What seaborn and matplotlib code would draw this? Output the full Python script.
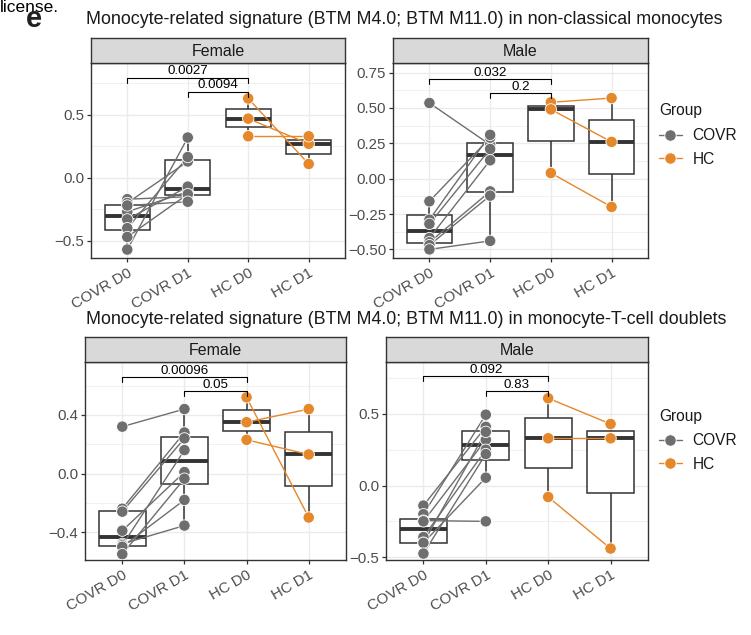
import numpy as np
import pandas as pd
import matplotlib
matplotlib.use("Agg")
import matplotlib.pyplot as plt
import seaborn as sns
from matplotlib.lines import Line2D

sns.set_theme(style="white")
plt.rcParams['font.family'] = ['Liberation Sans', 'DejaVu Sans']

ORDER = ["COVR D0", "COVR D1", "HC D0", "HC D1"]
PALETTE = {"COVR": "#6E6E6E", "HC": "#E5872B"}

# --- non-classical monocytes (paired subjects, same order D0 / D1) ---
ncm_f_covr_d0 = [-0.17, -0.20, -0.27, -0.33, -0.40, -0.47, -0.57, -0.22]
ncm_f_covr_d1 = [-0.15, 0.13, -0.11, -0.07, 0.165, -0.13, 0.32, -0.19]
ncm_f_hc_d0 = [0.63, 0.47, 0.33]
ncm_f_hc_d1 = [0.11, 0.27, 0.33]
ncm_m_covr_d0 = [0.535, -0.16, -0.29, -0.32, -0.42, -0.45, -0.47, -0.50]
ncm_m_covr_d1 = [0.24, 0.29, 0.31, 0.21, 0.13, -0.09, -0.12, -0.44]
ncm_m_hc_d0 = [0.54, 0.49, 0.04]
ncm_m_hc_d1 = [0.57, 0.26, -0.20]

# --- monocyte-T-cell doublets ---
dbl_f_covr_d0 = [0.32, -0.24, -0.26, -0.39, -0.48, -0.49, -0.50, -0.55]
dbl_f_covr_d1 = [0.44, 0.28, 0.24, 0.01, -0.355, 0.16, -0.18, -0.035]
dbl_f_hc_d0 = [0.52, 0.35, 0.23]
dbl_f_hc_d1 = [-0.30, 0.44, 0.13]
dbl_m_covr_d0 = [-0.14, -0.20, -0.245, -0.25, -0.36, -0.40, -0.40, -0.475]
dbl_m_covr_d1 = [0.41, 0.495, -0.25, 0.32, 0.25, 0.375, 0.055, 0.22]
dbl_m_hc_d0 = [0.61, 0.33, -0.08]
dbl_m_hc_d1 = [0.43, 0.33, -0.44]

# p-value labels: (COVR D0 vs HC D0, COVR D1 vs HC D0)
p_ncm_f = ["0.0027", "0.0094"]
p_ncm_m = ["0.032", "0.2"]
p_dbl_f = ["0.00096", "0.05"]
p_dbl_m = ["0.092", "0.83"]

TITLE_TOP = "Monocyte-related signature (BTM M4.0; BTM M11.0) in non-classical monocytes"
TITLE_BOT = "Monocyte-related signature (BTM M4.0; BTM M11.0) in monocyte-T-cell doublets"


def make_df(c0, c1, h0, h1):
    rows = []
    for i, (a, b) in enumerate(zip(c0, c1)):
        rows += [("COVR", f"c{i}", "COVR D0", a), ("COVR", f"c{i}", "COVR D1", b)]
    for i, (a, b) in enumerate(zip(h0, h1)):
        rows += [("HC", f"h{i}", "HC D0", a), ("HC", f"h{i}", "HC D1", b)]
    return pd.DataFrame(rows, columns=["group", "subj", "cond", "val"])


W, H = 751, 635
fig = plt.figure(figsize=(W / 100, H / 100), dpi=100)


def rect(l, t, r, b):
    return [l / W, 1 - b / H, (r - l) / W, (b - t) / H]


def fmt(v, nd):
    s = f"{abs(v):.{nd}f}"
    return ("\u2212" + s) if v < -1e-9 else s


def draw_panel(box, strip_top, df, label, pvals, br_y, ylim, yticks, nd):
    l, t, r, b = box
    ax = fig.add_axes(rect(l, t, r, b))
    sns.boxplot(data=df, x="cond", y="val", order=ORDER, width=0.75, color="white",
                linecolor="#333333", linewidth=1.1, showfliers=False, showcaps=False,
                medianprops=dict(linewidth=2.8, color="#333333"), ax=ax)
    sns.lineplot(data=df, x="cond", y="val", units="subj", estimator=None, hue="group",
                 palette=PALETTE, sort=False, linewidth=1.0, legend=False, zorder=3, ax=ax)
    sns.stripplot(data=df, x="cond", y="val", order=ORDER, hue="group", palette=PALETTE,
                  jitter=False, size=8.2, linewidth=0.6, edgecolor="white",
                  legend=False, zorder=4, ax=ax)
    ax.set_xlim(-0.6, 3.6)
    ax.set_ylim(*ylim)
    ax.set_yticks(yticks)
    ax.set_yticklabels([fmt(v, nd) for v in yticks])
    step = yticks[1] - yticks[0]
    minor = [v + step / 2 for v in [yticks[0] - step] + list(yticks)]
    ax.set_yticks([m for m in minor if ylim[0] < m < ylim[1]], minor=True)
    ax.set_xticks(range(len(ORDER)))
    ax.set_xticklabels(ORDER, rotation=30, ha="right", rotation_mode="anchor")
    ax.set_xlabel("")
    ax.set_ylabel("")
    ax.set_axisbelow(True)
    ax.grid(True, which="major", color="#EBEBEB", linewidth=1.0)
    ax.grid(True, which="minor", axis="y", color="#EBEBEB", linewidth=0.5)
    for s in ax.spines.values():
        s.set_color("#333333")
        s.set_linewidth(1.0)
    ax.tick_params(axis="both", which="major", length=3, width=0.9, color="#333333",
                   labelcolor="#4D4D4D", labelsize=10.8, pad=2, left=True, bottom=True)
    ax.tick_params(axis="x", which="major", pad=3)
    ax.tick_params(axis="y", which="minor", length=0)

    # significance brackets
    px_per_unit = (b - t) / (ylim[1] - ylim[0])
    tip = 5 / px_per_unit
    for (x0, x1), y, p in zip([(0, 2), (1, 2)], br_y, pvals):
        ax.plot([x0, x0, x1, x1], [y - tip, y, y, y - tip], color="black",
                linewidth=0.8, zorder=5, clip_on=False)
        ax.text((x0 + x1) / 2, y + 0.2 / px_per_unit, p, ha="center", va="bottom",
                fontsize=9.6, color="black", zorder=5)

    # facet strip
    sax = fig.add_axes(rect(l, strip_top, r, t))
    sax.set_facecolor("#D9D9D9")
    sax.set_xticks([])
    sax.set_yticks([])
    for s in sax.spines.values():
        s.set_color("#333333")
        s.set_linewidth(1.0)
    sax.text(0.5, 0.45, label, ha="center", va="center", fontsize=11.5,
             color="#1A1A1A", transform=sax.transAxes)
    return ax


draw_panel((91, 63, 345, 258), 38, make_df(ncm_f_covr_d0, ncm_f_covr_d1, ncm_f_hc_d0, ncm_f_hc_d1),
           "Female", p_ncm_f, [0.796, 0.685], (-0.637, 0.912), [-0.5, 0.0, 0.5], 1)
draw_panel((393, 63, 648, 258), 38, make_df(ncm_m_covr_d0, ncm_m_covr_d1, ncm_m_hc_d0, ncm_m_hc_d1),
           "Male", p_ncm_m, [0.704, 0.606], (-0.561, 0.818), [-0.5, -0.25, 0.0, 0.25, 0.5, 0.75], 2)
draw_panel((85, 362, 346, 560), 337, make_df(dbl_f_covr_d0, dbl_f_covr_d1, dbl_f_hc_d0, dbl_f_hc_d1),
           "Female", p_dbl_f, [0.656, 0.56], (-0.59, 0.761), [-0.4, 0.0, 0.4], 1)
draw_panel((386, 362, 648, 560), 337, make_df(dbl_m_covr_d0, dbl_m_covr_d1, dbl_m_hc_d0, dbl_m_hc_d1),
           "Male", p_dbl_m, [0.763, 0.658], (-0.52, 0.863), [-0.5, 0.0, 0.5], 1)

# titles and stray panel text
fig.text(86 / W, 1 - 20 / H, TITLE_TOP, ha="left", va="center", fontsize=12.9, color="#1A1A1A")
fig.text(86 / W, 1 - 320 / H, TITLE_BOT, ha="left", va="center", fontsize=12.9, color="#1A1A1A")
fig.text(0 / W, 1 - 7 / H, "license.", ha="left", va="center", fontsize=12.5, color="black")
fig.text(26 / W, 1 - 19 / H, "e", ha="left", va="center", fontsize=21, fontweight="bold",
         color="#222222")

# legends
handles = [Line2D([0], [0], color=PALETTE[g], marker="o", markersize=8.2,
                  markeredgecolor="white", markeredgewidth=0.6, linewidth=1.0)
           for g in ["COVR", "HC"]]
for y_title, y_first in [(110, 137), (417, 442)]:
    fig.text(659 / W, 1 - y_title / H, "Group", ha="left", va="center", fontsize=11.2,
             color="#1A1A1A")
    leg = fig.legend(handles, ["COVR", "HC"], loc="upper left",
                     bbox_to_anchor=(659 / W, 1 - (y_first - 9) / H), frameon=False,
                     fontsize=11.2, handlelength=1.45, handletextpad=0.7,
                     labelspacing=0.55, borderpad=0, borderaxespad=0)
    for txt in leg.get_texts():
        txt.set_color("#1A1A1A")

fig.savefig("out.png", dpi=100)
